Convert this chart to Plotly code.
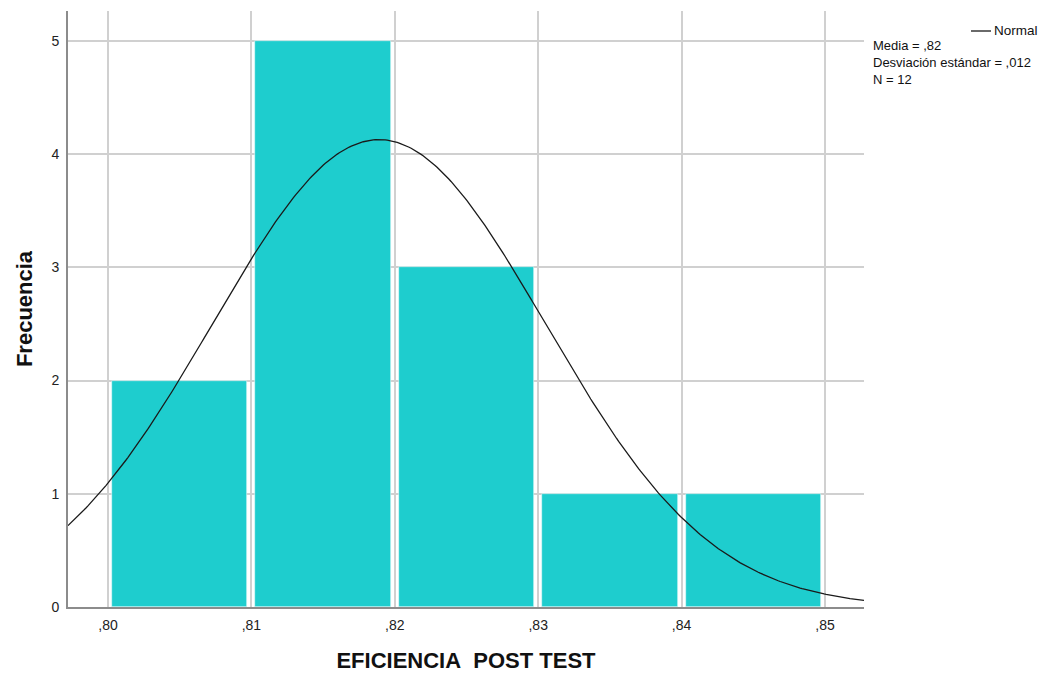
import numpy as np
import plotly.graph_objects as go

# ---- data ----
bin_starts = [0.80, 0.81, 0.82, 0.83, 0.84]
frequencies = [2, 5, 3, 1, 1]
bin_width = 0.01
x_tick_vals = [0.80, 0.81, 0.82, 0.83, 0.84, 0.85]
x_tick_text = [",80", ",81", ",82", ",83", ",84", ",85"]
y_tick_vals = [0, 1, 2, 3, 4, 5]
normal_mean = 0.8189
normal_sd = 0.0116
n_obs = 12
stats_lines = ["Media = ,82", "Desviación estándar = ,012", "N = 12"]

# ---- layout geometry (pixels; page body has an 8px margin) ----
OFF = 8
W, H = 1063 - OFF, 676 - OFF
L, T = 68 - OFF, 11 - OFF
plot_w, plot_h = 796, 596
R = W - L - plot_w
B = H - T - plot_h
x_range = [0.79721, 0.85272]
y_range = [0, 5.263]

def px_x(p):  # screen pixel -> paper
    return (p - OFF - L) / plot_w

def px_y(p):
    return (T + plot_h - (p - OFF)) / plot_h

FONT = "Liberation Sans, Arial, sans-serif"

fig = go.Figure()

fig.add_trace(go.Bar(
    x=[s + bin_width / 2 for s in bin_starts],
    y=frequencies,
    width=[bin_width * 0.944] * len(bin_starts),
    marker=dict(color="#1ecdce", line=dict(color="#eafafa", width=0.6)),
    showlegend=False,
    hoverinfo="x+y",
))

xs = np.linspace(x_range[0], x_range[1], 400)
ys = n_obs * bin_width / (normal_sd * np.sqrt(2 * np.pi)) * np.exp(-0.5 * ((xs - normal_mean) / normal_sd) ** 2)
fig.add_trace(go.Scatter(
    x=xs, y=ys, mode="lines", name="Normal",
    line=dict(color="#1a1a1a", width=1.3),
    showlegend=False,
))

fig.update_layout(
    width=W, height=H,
    margin=dict(l=L, r=R, t=T, b=B, pad=0),
    paper_bgcolor="white", plot_bgcolor="white",
    font=dict(family=FONT, size=14, color="#222"),
    bargap=0,
    xaxis=dict(
        range=x_range, tickvals=x_tick_vals, ticktext=x_tick_text,
        showgrid=True, gridcolor="#d0d0d0", gridwidth=1.6,
        showline=True, linecolor="#8c8c8c", linewidth=1.6,
        ticks="", zeroline=False, ticklabelstandoff=4,
        tickfont=dict(family=FONT, size=14, color="#222"),
        title=dict(text="<b>EFICIENCIA\u00a0 POST TEST</b>", standoff=21,
                   font=dict(family=FONT, size=22, color="#111")),
    ),
    yaxis=dict(
        range=y_range, tickvals=y_tick_vals,
        showgrid=True, gridcolor="#d0d0d0", gridwidth=1.6,
        showline=True, linecolor="#8c8c8c", linewidth=1.6,
        ticks="", zeroline=False, ticklabelstandoff=4,
        tickfont=dict(family=FONT, size=14, color="#222"),
        title=dict(text="<b>Frecuencia</b>", standoff=13,
                   font=dict(family=FONT, size=22, color="#111")),
    ),
)

# legend: line sample + label
fig.add_shape(type="line", xref="paper", yref="paper",
              x0=px_x(971), x1=px_x(991), y0=px_y(31), y1=px_y(31),
              line=dict(color="#1a1a1a", width=1.3))
fig.add_annotation(xref="paper", yref="paper", x=px_x(992), y=px_y(31),
                   text="Normal", showarrow=False, xanchor="left", yanchor="middle",
                   font=dict(family=FONT, size=13.5, color="#111"))
fig.add_annotation(xref="paper", yref="paper", x=px_x(872), y=px_y(37),
                   text="<br>".join(stats_lines), showarrow=False,
                   xanchor="left", yanchor="top", align="left", borderpad=0,
                   font=dict(family=FONT, size=13, color="#111"))

fig.write_html("out.html")
